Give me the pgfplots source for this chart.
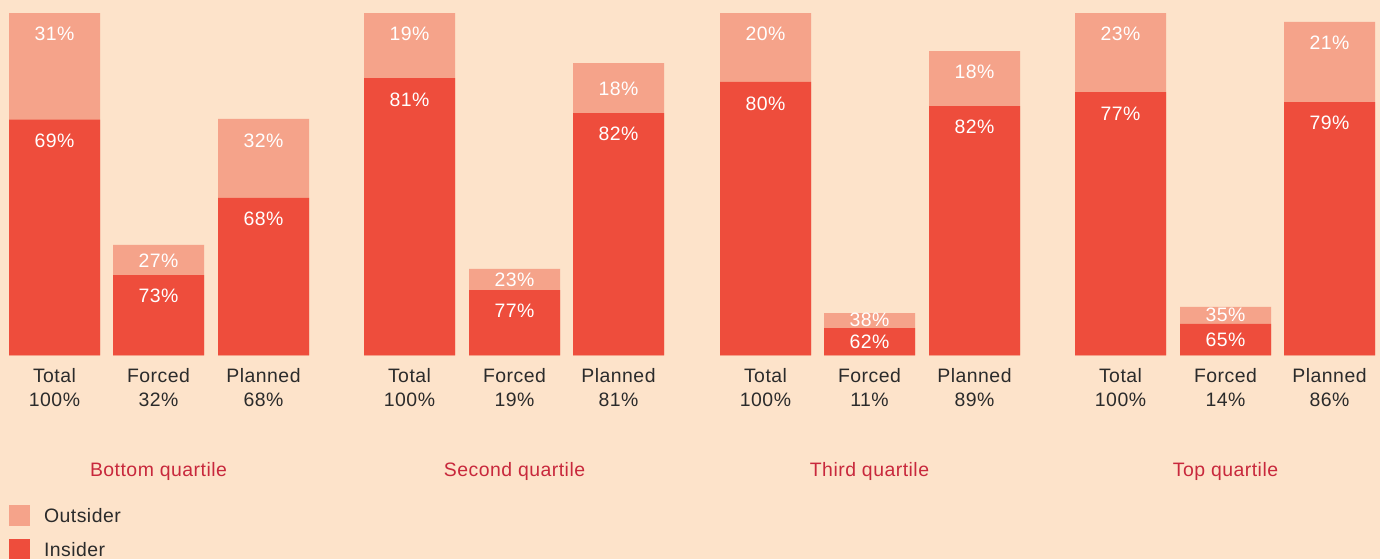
\documentclass[border=0pt]{standalone}
\usepackage{fontspec}
\setmainfont[LetterSpace=2.5]{Liberation Sans}
\usepackage{pgfplots}
\usepackage{pgfplotstable}
\pgfplotsset{compat=1.18}
\definecolor{bg}{HTML}{FDE3CA}
\definecolor{outs}{HTML}{F5A38A}
\definecolor{ins}{HTML}{EE4D3C}
\definecolor{grp}{HTML}{C8283C}
\definecolor{txt}{HTML}{2B2B2B}
\newcommand{\lblfont}{\fontsize{19.5}{23}\selectfont}

% bar height (share of group) and insider part of it
\pgfplotstableread{
x h ins
54.5 100 68.9
158.5 32.3 23.5
263.5 69.1 46.0
409.5 100 81.0
514.5 25.3 19.1
618.5 85.4 70.8
765.5 100 79.9
869.5 12.4 8.0
974.5 88.9 72.8
1120.5 100 76.9
1225.5 14.2 9.2
1329.5 97.4 74.0
}\bars

% percentage labels inside the bars
\pgfplotstableread{
x y lab
54.5 93.8 31
54.5 62.7 69
158.5 27.7 27
158.5 17.4 73
263.5 62.8 32
263.5 39.9 68
409.5 93.8 19
409.5 74.8 81
514.5 22.0 23
514.5 12.9 77
618.5 78.0 18
618.5 64.6 82
765.5 93.8 20
765.5 73.5 80
869.5 10.4 38
869.5 4.0 62
974.5 82.7 18
974.5 66.7 82
1120.5 93.8 23
1120.5 70.7 77
1225.5 11.8 35
1225.5 4.5 65
1329.5 91.2 21
1329.5 67.8 79
}\seglabels

% category names and shares below the bars
\pgfplotstableread{
x y1 y2 name share
54.5 -7.94 -14.95 Total 100
158.5 -7.94 -14.95 Forced 32
263.5 -7.94 -14.95 Planned 68
409.5 -7.94 -14.95 Total 100
514.5 -7.94 -14.95 Forced 19
618.5 -7.94 -14.95 Planned 81
765.5 -7.94 -14.95 Total 100
869.5 -7.94 -14.95 Forced 11
974.5 -7.94 -14.95 Planned 89
1120.5 -7.94 -14.95 Total 100
1225.5 -7.94 -14.95 Forced 14
1329.5 -7.94 -14.95 Planned 86
}\cats

\pgfplotstableread[col sep=comma]{
x,y,name
158.5,-35.39,Bottom quartile
514.5,-35.39,Second quartile
869.5,-35.39,Third quartile
1225.5,-35.39,Top quartile
}\groups

\begin{document}
\begin{tikzpicture}
\fill[bg] (0,0) rectangle (1380bp,559bp);
\useasboundingbox (0,0) rectangle (1380bp,559bp);
\begin{axis}[
  at={(0,0)}, anchor=south west,
  scale only axis, width=1380bp, height=559bp,
  xmin=0, xmax=1380, ymin=-59.42, ymax=103.80,
  hide axis, clip=false,
  legend style={at={(axis cs:9,-43.65)}, anchor=north west,
    draw=none, fill=none, inner sep=0pt, outer sep=0pt,
    row sep=13bp, font=\lblfont, text=txt,
    nodes={inner sep=0pt, anchor=base west},
    /tikz/every odd column/.append style={column sep=14bp}},
  legend cell align=left,
]
\addplot[ybar, bar width=91, bar shift=0pt, fill=outs, draw=none,
  legend image code/.code={\fill[outs] (0bp,-3bp) rectangle (21bp,18bp);}]
  table[x=x, y=h] {\bars};
\addlegendentry{Outsider}
\addplot[ybar, bar width=91, bar shift=0pt, fill=ins, draw=none,
  legend image code/.code={\fill[ins] (0bp,-3bp) rectangle (21bp,18bp);}]
  table[x=x, y=ins] {\bars};
\addlegendentry{Insider}

\addplot[draw=none, mark=none, forget plot, point meta=explicit symbolic,
  nodes near coords={\pgfplotspointmeta\%},
  nodes near coords style={anchor=center, inner sep=0pt, text=white, font=\lblfont}]
  table[x=x, y=y, meta=lab] {\seglabels};

\addplot[draw=none, mark=none, forget plot, point meta=explicit symbolic,
  nodes near coords={\pgfplotspointmeta},
  nodes near coords style={anchor=base, inner sep=0pt, text=txt, font=\lblfont}]
  table[x=x, y=y1, meta=name] {\cats};
\addplot[draw=none, mark=none, forget plot, point meta=explicit symbolic,
  nodes near coords={\pgfplotspointmeta\%},
  nodes near coords style={anchor=base, inner sep=0pt, text=txt, font=\lblfont}]
  table[x=x, y=y2, meta=share] {\cats};

\addplot[draw=none, mark=none, forget plot, point meta=explicit symbolic,
  nodes near coords={\pgfplotspointmeta},
  nodes near coords style={anchor=base, inner sep=0pt, text=grp, font=\lblfont}]
  table[x=x, y=y, meta=name] {\groups};
\end{axis}
\end{tikzpicture}
\end{document}
